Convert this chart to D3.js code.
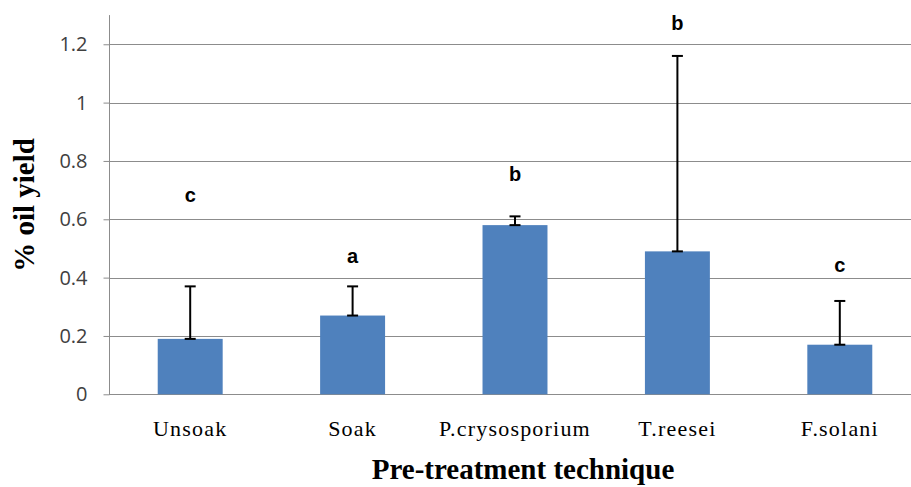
<!DOCTYPE html>
<html lang="en">
<head>
<meta charset="UTF-8">
<title>% oil yield by pre-treatment technique</title>
<script src="https://cdn.jsdelivr.net/npm/d3@7"></script>
<style>
  body { margin: 0; background: #fff; }
  .tick-y text { font-family: "Open Sans", "Liberation Sans", sans-serif; font-size: 20px; fill: #404040; }
  .cat { font-family: "Liberation Serif", serif; font-size: 22px; letter-spacing: 1.2px; fill: #000; }
  .title { font-family: "Liberation Serif", serif; font-size: 29px; font-weight: bold; fill: #000; }
  .letter { font-family: "Liberation Sans", Arial, sans-serif; font-size: 20px; font-weight: bold; fill: #000; }
</style>
</head>
<body>
<div id="chart"></div>
<script>
// data
var categories = ["Unsoak", "Soak", "P.crysosporium", "T.reesei", "F.solani"];
var yieldValues = [0.19, 0.27, 0.58, 0.49, 0.17];
var errorTops = [0.37, 0.37, 0.61, 1.16, 0.32];
var letters = ["c", "a", "b", "b", "c"];
var letterLevels = [0.66, 0.45, 0.73, 1.25, 0.42];
var yTicks = [0, 0.2, 0.4, 0.6, 0.8, 1, 1.2];

var W = 911, H = 487;
var svg = d3.select("#chart").append("svg").attr("width", W).attr("height", H);

// plot area (right side is cut off like in the original)
var x = d3.scaleBand().domain(categories).range([109, 921]).paddingInner(0.6).paddingOuter(0.3);
var y = d3.scaleLinear().domain([0, 1.3]).range([394.3, 15.1]);

// gridlines
svg.append("g").selectAll("line").data(yTicks.slice(1)).enter().append("line")
  .attr("x1", 109).attr("x2", W)
  .attr("y1", function(d) { return Math.round(y(d)) + 0.5; })
  .attr("y2", function(d) { return Math.round(y(d)) + 0.5; })
  .attr("stroke", "#8c8c8c").attr("stroke-width", 1);

// y axis
var yAxis = d3.axisLeft(y).tickValues(yTicks).tickSize(6).tickPadding(16)
  .tickFormat(function(d) { return d === 0 ? "0" : d3.format("")(d); });
var gy = svg.append("g").attr("class", "tick-y").attr("transform", "translate(109.5,0)").call(yAxis);
gy.select(".domain").remove();
gy.selectAll(".tick line").attr("stroke", "#8c8c8c");
svg.append("line").attr("x1", 109.5).attr("x2", 109.5).attr("y1", y(1.3)).attr("y2", y(0))
  .attr("stroke", "#8c8c8c");
svg.append("line").attr("x1", 109).attr("x2", W).attr("y1", Math.round(y(0)) + 0.5).attr("y2", Math.round(y(0)) + 0.5)
  .attr("stroke", "#8c8c8c");

// bars
svg.append("g").selectAll("rect").data(categories).enter().append("rect")
  .attr("x", function(d) { return x(d); })
  .attr("width", x.bandwidth())
  .attr("y", function(d, i) { return y(yieldValues[i]); })
  .attr("height", function(d, i) { return y(0) - y(yieldValues[i]); })
  .attr("fill", "#4f81bd");

// error bars (plus only, caps at both ends)
var eb = svg.append("g").attr("stroke", "#000").attr("stroke-width", 2);
categories.forEach(function(c, i) {
  var cx = x(c) + x.bandwidth() / 2;
  eb.append("line").attr("x1", cx).attr("x2", cx).attr("y1", y(yieldValues[i])).attr("y2", y(errorTops[i]));
  eb.append("line").attr("x1", cx - 5.5).attr("x2", cx + 5.5).attr("y1", y(errorTops[i])).attr("y2", y(errorTops[i]));
  eb.append("line").attr("x1", cx - 5.5).attr("x2", cx + 5.5).attr("y1", y(yieldValues[i])).attr("y2", y(yieldValues[i]));
});

// significance letters
svg.append("g").selectAll("text").data(letters).enter().append("text")
  .attr("class", "letter")
  .attr("x", function(d, i) { return x(categories[i]) + x.bandwidth() / 2; })
  .attr("y", function(d, i) { return y(letterLevels[i]); })
  .attr("text-anchor", "middle")
  .text(function(d) { return d; });

// category labels
svg.append("g").selectAll("text").data(categories).enter().append("text")
  .attr("class", "cat")
  .attr("x", function(d) { return x(d) + x.bandwidth() / 2; })
  .attr("y", 436)
  .attr("text-anchor", "middle")
  .text(function(d) { return d; });

// axis titles
svg.append("text").attr("class", "title").attr("x", 523).attr("y", 479)
  .attr("text-anchor", "middle").text("Pre-treatment technique");
svg.append("text").attr("class", "title")
  .attr("transform", "translate(34,205) rotate(-90)")
  .attr("text-anchor", "middle").text("% oil yield");
</script>
</body>
</html>
